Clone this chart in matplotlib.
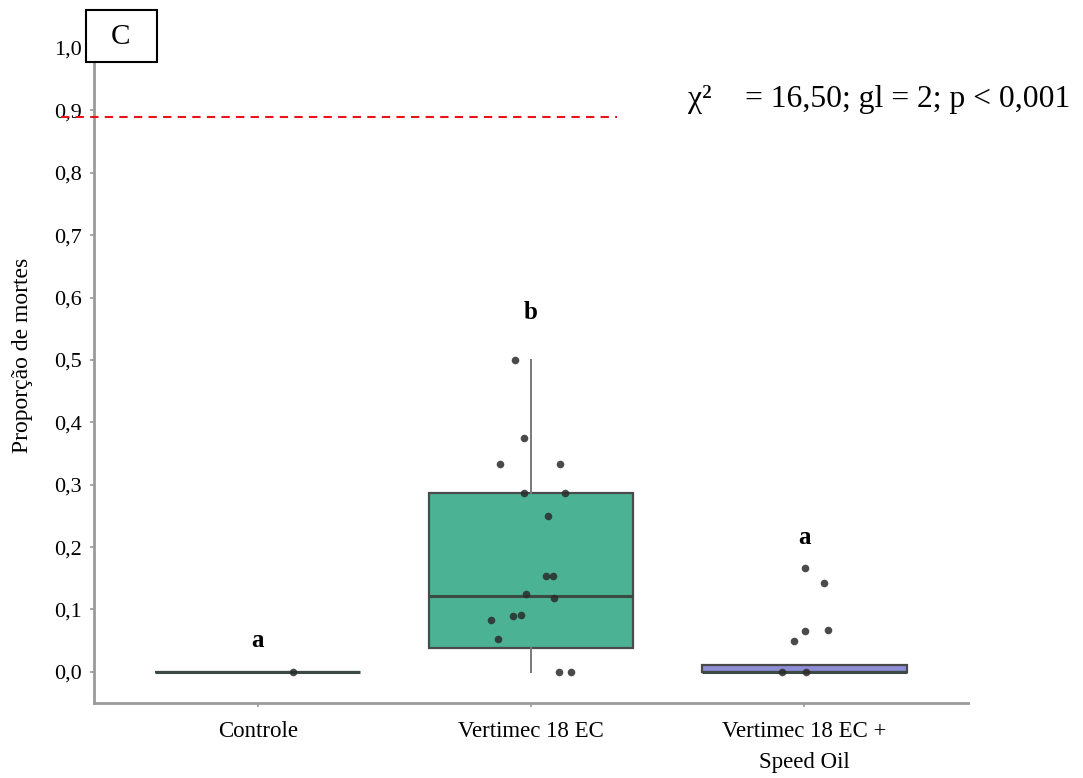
import matplotlib
matplotlib.use("Agg")
import matplotlib.pyplot as plt
from matplotlib.patches import Rectangle

# categories and box statistics
categories = ["Controle", "Vertimec 18 EC", "Vertimec 18 EC +\nSpeed Oil"]
q1 = [0.0, 0.038, 0.0]
medians = [0.0, 0.121, 0.0]
q3 = [0.0, 0.286, 0.011]
whisker_low = [0.0, 0.0, 0.0]
whisker_high = [0.0, 0.50, 0.011]
box_colors = ["#d9d9d9", "#4bb293", "#8f8dd6"]

# individual observations (jittered points)
controle_vals = [0.0]
vertimec_vals = [0.50, 0.375, 0.333, 0.333, 0.286, 0.286, 0.25, 0.154, 0.154,
                 0.125, 0.118, 0.089, 0.091, 0.083, 0.052, 0.0, 0.0]
speed_vals = [0.167, 0.143, 0.065, 0.067, 0.05, 0.0, 0.0]
points = [controle_vals, vertimec_vals, speed_vals]

# horizontal jitter offsets
jitter = [
    [0.128],
    [-0.060, -0.026, -0.114, 0.106, -0.026, 0.125, 0.062, 0.054, 0.081,
     -0.018, 0.084, -0.066, -0.037, -0.148, -0.121, 0.103, 0.147],
    [0.004, 0.072, 0.004, 0.088, -0.036, -0.082, 0.008],
]

letters = ["a", "b", "a"]
letter_y = [0.05, 0.576, 0.215]
reference_level = 0.89
stat_text = "= 16,50; gl = 2; p < 0,001"

plt.rcParams["font.family"] = ["Liberation Serif", "DejaVu Serif"]

fig = plt.figure(figsize=(10.83, 7.78), dpi=100)
ax = fig.add_axes([0.0868, 0.0964, 0.8070, 0.8419])

stats = []
for i in range(len(categories)):
    stats.append({
        "q1": q1[i], "med": medians[i], "q3": q3[i],
        "whislo": whisker_low[i], "whishi": whisker_high[i],
        "fliers": [],
    })

bp = ax.bxp(stats, positions=range(len(categories)), widths=0.75,
            patch_artist=True, showfliers=False, showcaps=False,
            boxprops=dict(edgecolor="#4a4a4a", linewidth=1.6),
            medianprops=dict(color="#3c4a44", linewidth=2.2),
            whiskerprops=dict(color="#7a7a7a", linewidth=1.4))
for patch, c in zip(bp["boxes"], box_colors):
    patch.set_facecolor(c)
bp["boxes"][0].set_facecolor("none")

for i, (vals, jit) in enumerate(zip(points, jitter)):
    xs = [i + j for j in jit]
    ax.scatter(xs, vals, s=30, color="#2b2b2b", alpha=0.85, zorder=4,
               linewidths=0)

for i, (lab, ly) in enumerate(zip(letters, letter_y)):
    ax.text(i, ly, lab, ha="center", va="center", fontsize=18,
            fontweight="bold")

ax.plot([-0.72, 1.315], [reference_level, reference_level], color="#e8141a",
        linestyle=(0, (4, 3)), linewidth=1.5, clip_on=False, zorder=5)

ax.set_xlim(-0.6, 2.6)
ax.set_ylim(-0.05, 1.0)
ax.set_xticks(range(len(categories)))
ax.set_xticklabels(categories, fontsize=16.5, linespacing=1.6)
yt = [i / 10 for i in range(11)]
ax.set_yticks(yt)
ax.set_yticklabels([f"{v:.1f}".replace(".", ",") for v in yt], fontsize=16)
ax.tick_params(axis="both", length=3, width=1.2, color="#9a9a9a", pad=6)
ax.tick_params(axis="x", pad=10)
ax.set_ylabel("Proporção de mortes", fontsize=17)
ax.yaxis.set_label_coords(-0.07, 0.53)

for side in ["top", "right"]:
    ax.spines[side].set_visible(False)
for side in ["left", "bottom"]:
    ax.spines[side].set_color("#9a9a9a")
    ax.spines[side].set_linewidth(2)

# panel label box
fig.patches.append(Rectangle((86 / 1083, 1 - 62 / 778), 71 / 1083, 52 / 778,
                             transform=fig.transFigure, facecolor="white",
                             edgecolor="black", linewidth=1.5, zorder=10))
fig.text(121 / 1083, 1 - 37 / 778, "C", ha="center", va="center",
         fontsize=21, zorder=11)

fig.text(700 / 1083, 1 - 100 / 778, "χ²", ha="center", va="center",
         fontsize=22.8)
fig.text(745 / 1083, 1 - 100 / 778, stat_text, ha="left", va="center",
         fontsize=22.8)

fig.savefig("out.png", dpi=100)
